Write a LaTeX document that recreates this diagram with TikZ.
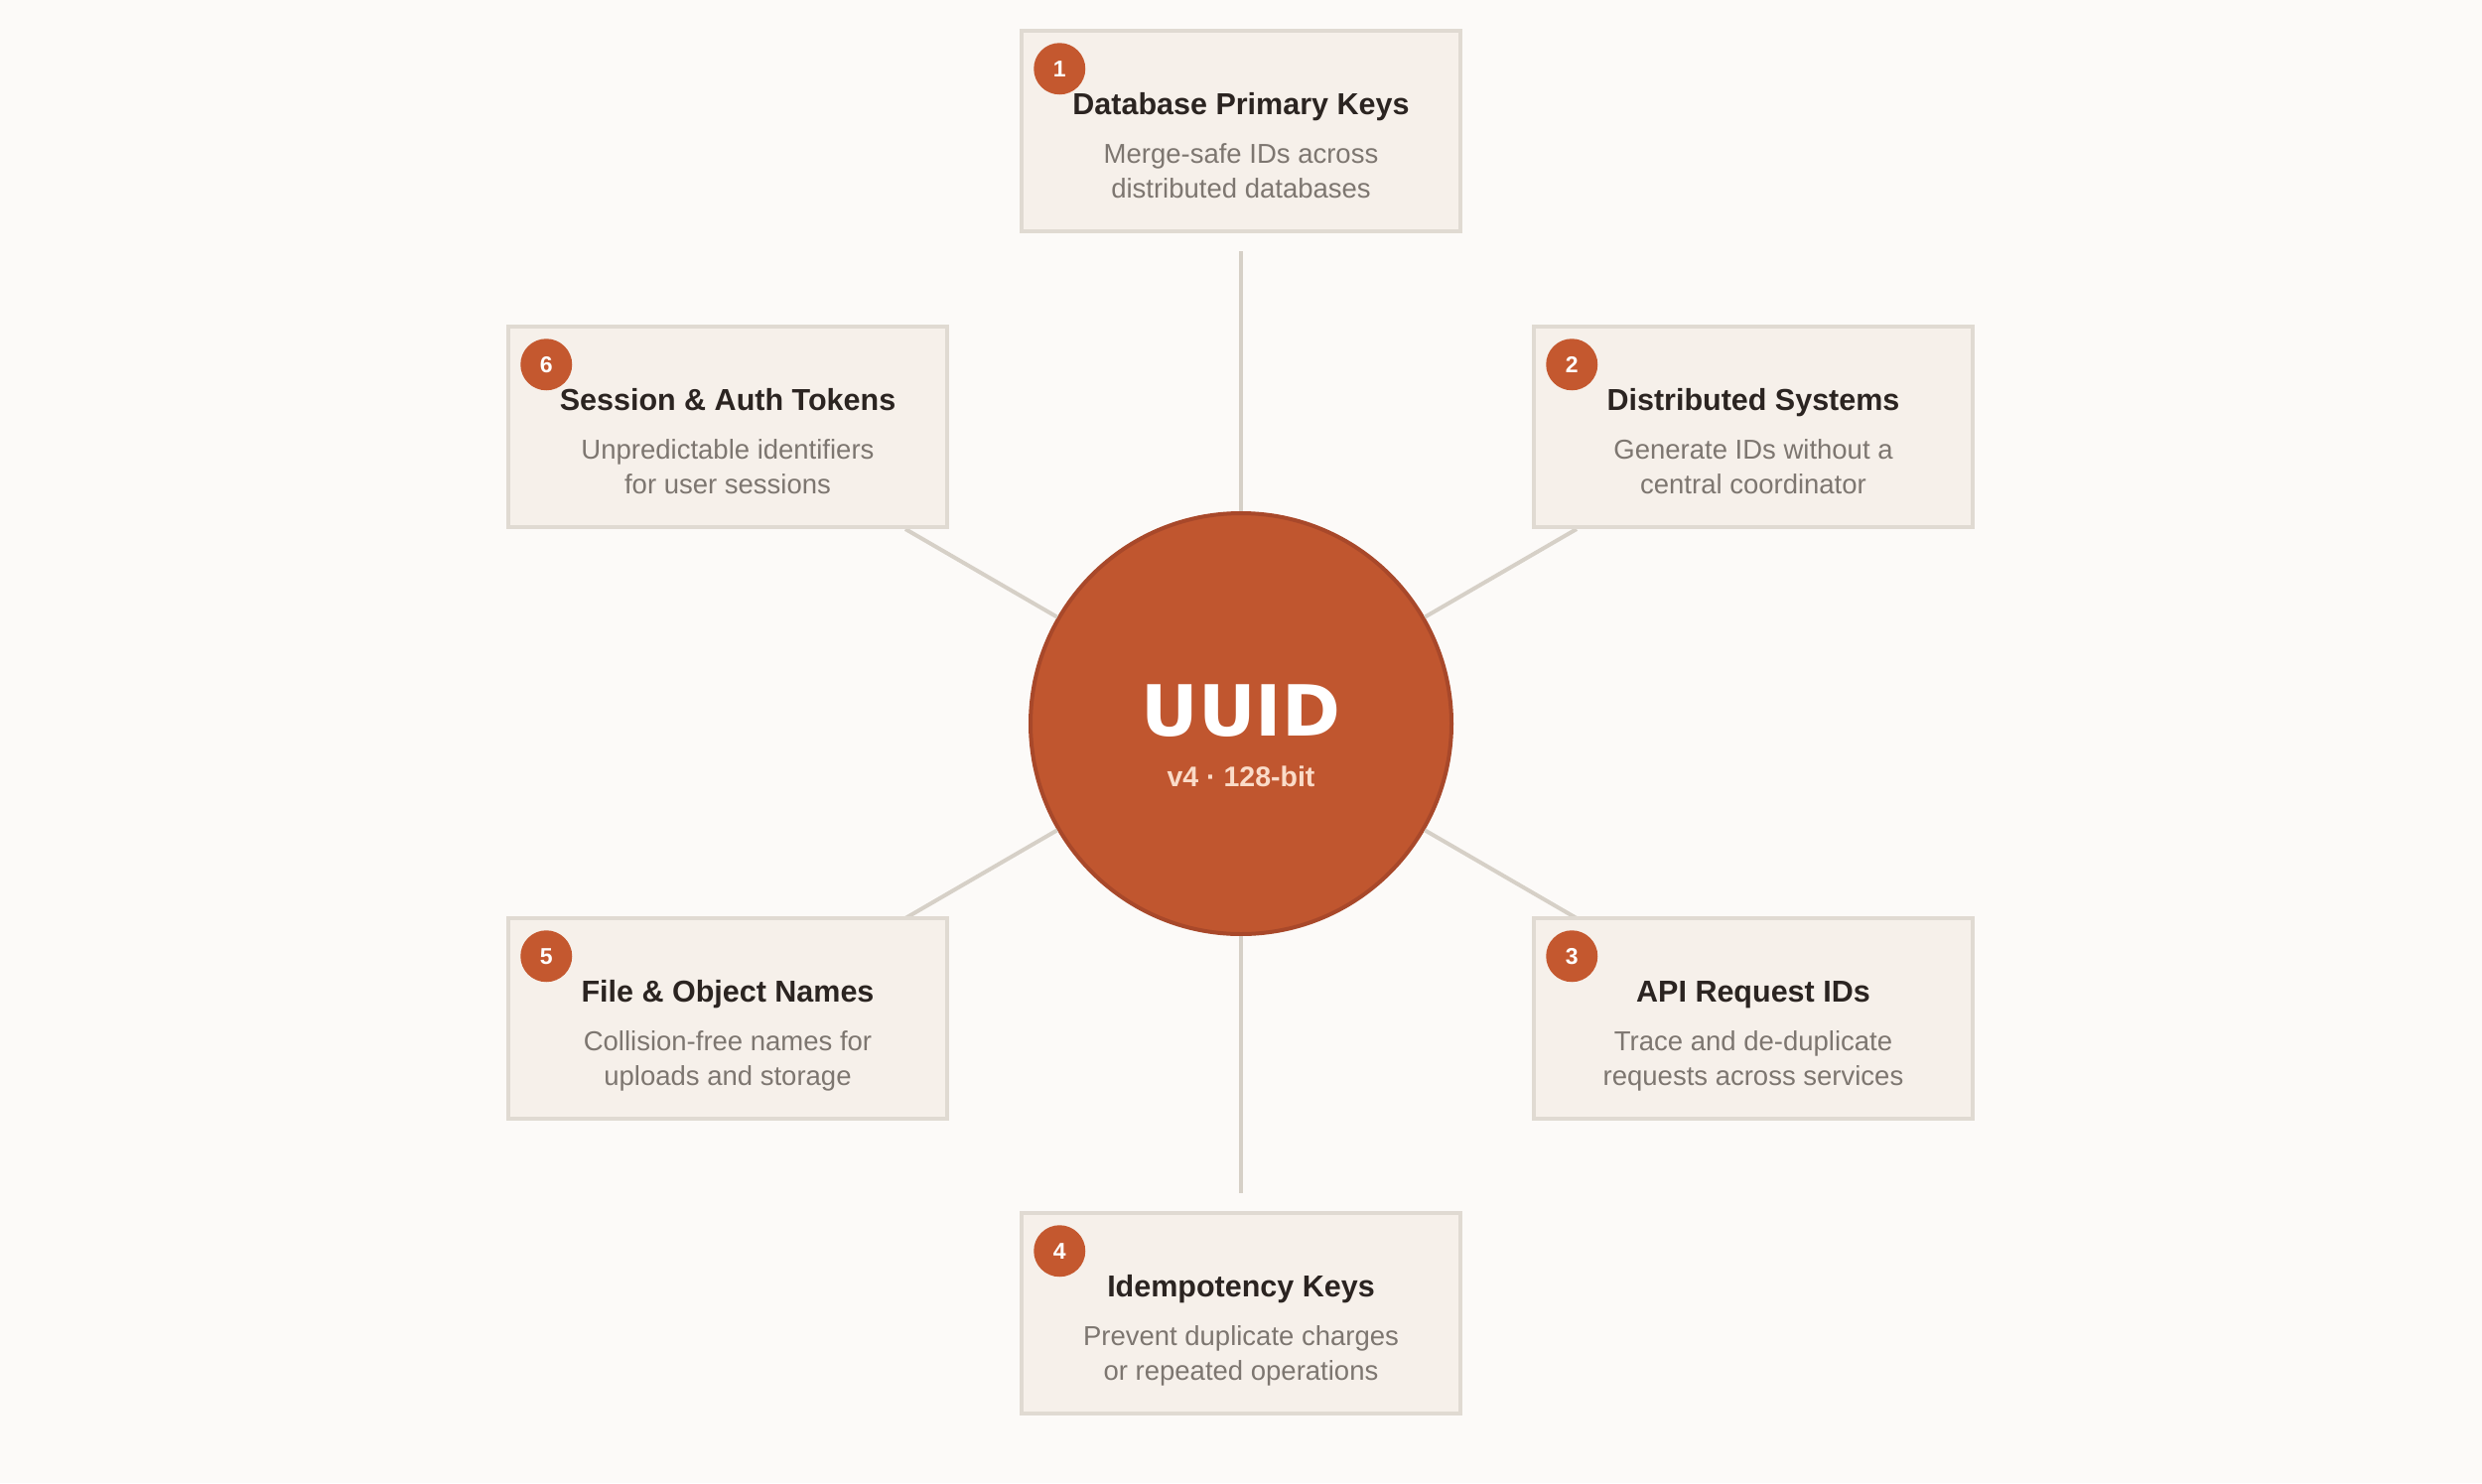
\documentclass[tikz,border=0pt]{standalone}
\usepackage{fontspec}
\setmainfont{Liberation Sans}
\newfontfamily\heavyfont{DejaVu Sans}
\definecolor{bgc}{HTML}{FCFAF8}
\definecolor{cardfill}{HTML}{F6F0EA}
\definecolor{cardline}{HTML}{E0DAD2}
\definecolor{linkc}{HTML}{D6D0C7}
\definecolor{hubfill}{HTML}{C0562F}
\definecolor{hubline}{HTML}{A8482A}
\definecolor{badgec}{HTML}{C4582F}
\definecolor{titlec}{HTML}{2B2421}
\definecolor{descc}{HTML}{7D7670}
\definecolor{subc}{HTML}{FADBC8}
\tikzset{
  card/.style={rectangle, draw=cardline, line width=3.5pt, fill=cardfill,
    minimum width=442pt, minimum height=202pt, inner sep=0pt},
  badge/.style={circle, fill=badgec, minimum size=52pt, inner sep=0pt,
    text=white, font=\bfseries\fontsize{23}{25}\selectfont},
  ttl/.style={anchor=base, inner sep=0pt, text=titlec,
    font=\bfseries\fontsize{30.5}{34}\selectfont},
  dsc/.style={anchor=base, inner sep=0pt, text=descc,
    font=\fontsize{27.5}{32}\selectfont},
  hub/.style={circle, fill=hubfill, draw=hubline, line width=4pt,
    minimum size=424pt, inner sep=0pt},
  link/.style={draw=linkc, line width=4pt}
}
\newcommand\mkcard[7]{%
  \node[card] (#1) at (#2,#3) {};
  \node[ttl] (#1t) at ([yshift=-86pt]#1.north) {#5};
  \node[dsc] (#1a) at ([yshift=-135pt]#1.north) {#6};
  \node[dsc] (#1b) at ([yshift=-170pt]#1.north) {#7};
  \node[badge] (#1n) at ([xshift=40pt,yshift=-40pt]#1.north west) {#4};
}
\begin{document}
\begin{tikzpicture}[x=1pt,y=-1pt]
\fill[bgc] (0,0) rectangle (2500,1494);
\useasboundingbox (0,0) rectangle (2500,1494);

\node[hub] (c) at (1250,729) {};
\coordinate (e1) at (1250,253);
\coordinate (e4) at (1250,1202);
\coordinate (e6) at (912,533);
\coordinate (e2) at (1588,533);
\coordinate (e5) at (912,925);
\coordinate (e3) at (1588,925);
\foreach \e in {e1,e2,e3,e4,e5,e6}{\draw[link] (c) -- (\e);}
\node[anchor=base, inner sep=0pt, text=white] (u) at (1250,741)
  {\heavyfont\bfseries\fontsize{71}{74}\selectfont UUID};
\node[anchor=base, inner sep=0pt, text=subc] (v) at (1250,792)
  {\bfseries\fontsize{28.5}{32}\selectfont v4 · 128-bit};

\mkcard{b1}{1250}{132}{1}{Database Primary Keys}{Merge-safe IDs across}{distributed databases}
\mkcard{b2}{1766}{430}{2}{Distributed Systems}{Generate IDs without a}{central coordinator}
\mkcard{b3}{1766}{1026}{3}{API Request IDs}{Trace and de-duplicate}{requests across services}
\mkcard{b4}{1250}{1323}{4}{Idempotency Keys}{Prevent duplicate charges}{or repeated operations}
\mkcard{b5}{733}{1026}{5}{File \& Object Names}{Collision-free names for}{uploads and storage}
\mkcard{b6}{733}{430}{6}{Session \& Auth Tokens}{Unpredictable identifiers}{for user sessions}
\end{tikzpicture}
\end{document}
